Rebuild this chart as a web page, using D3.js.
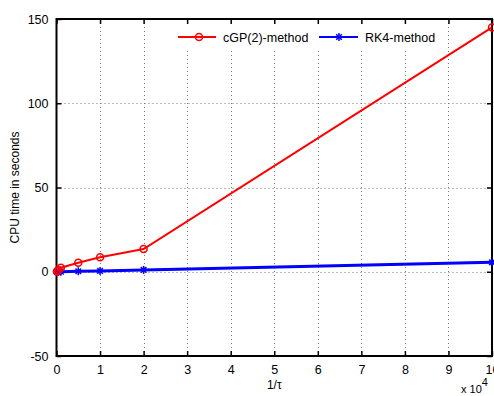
<!DOCTYPE html>
<html>
<head>
<meta charset="utf-8">
<script src="https://cdn.jsdelivr.net/npm/d3@7"></script>
<style>
  body { margin: 0; background: #fff; }
  svg text { font-family: "Liberation Sans", Arial, sans-serif; }
</style>
</head>
<body>
<div id="chart"></div>
<script>
// data: x in units of 1e4 (1/tau), y = CPU seconds
var invTau = [0.01, 0.02, 0.05, 0.1, 0.5, 1, 2, 10];
var cgpTime = [0.2, 0.5, 1.0, 2.4, 5.3, 8.6, 13.5, 145];
var rk4Time = [0.0, 0.01, 0.03, 0.06, 0.3, 0.5, 1.1, 5.6];
var xTicks = [0, 1, 2, 3, 4, 5, 6, 7, 8, 9, 10];
var yTicks = [-50, 0, 50, 100, 150];

var width = 494, height = 396;
var margin = { left: 56.5, right: 2, top: 19, bottom: 40 };

var svg = d3.select('#chart').append('svg')
    .attr('width', width)
    .attr('height', height);

var x = d3.scaleLinear().domain([0, 10]).range([margin.left, width - margin.right]);
var y = d3.scaleLinear().domain([-50, 150]).range([height - margin.bottom, margin.top]);

var x0 = x.range()[0], x1 = x.range()[1], y0 = y.range()[0], y1 = y.range()[1];

// grid
svg.append('g').selectAll('line')
    .data(xTicks.slice(1, -1)).enter()
    .append('line')
    .attr('x1', function (d) { return Math.round(x(d)) + 0.5; })
    .attr('x2', function (d) { return Math.round(x(d)) + 0.5; })
    .attr('y1', y1).attr('y2', y0)
    .attr('stroke', '#777').attr('stroke-dasharray', '1,3');
svg.append('g').selectAll('line')
    .data(yTicks.slice(1, -1)).enter()
    .append('line')
    .attr('y1', function (d) { return Math.round(y(d)) + 0.5; })
    .attr('y2', function (d) { return Math.round(y(d)) + 0.5; })
    .attr('x1', x0).attr('x2', x1)
    .attr('stroke', '#777').attr('stroke-dasharray', '1,3');

// axes
var fmt = function (d) { return String(d); };
var xAxis = svg.append('g').attr('transform', 'translate(0,' + y0 + ')')
    .call(d3.axisBottom(x).tickValues(xTicks).tickSizeInner(-5).tickSizeOuter(0).tickPadding(9).tickFormat(fmt));
var xAxisTop = svg.append('g').attr('transform', 'translate(0,' + y1 + ')')
    .call(d3.axisTop(x).tickValues(xTicks).tickSizeInner(-5).tickSizeOuter(0).tickFormat(''));
var yAxis = svg.append('g').attr('transform', 'translate(' + x0 + ',0)')
    .call(d3.axisLeft(y).tickValues(yTicks).tickSizeInner(-5).tickSizeOuter(0).tickPadding(8).tickFormat(fmt));
var yAxisRight = svg.append('g').attr('transform', 'translate(' + x1 + ',0)')
    .call(d3.axisRight(y).tickValues(yTicks).tickSizeInner(-5).tickSizeOuter(0).tickFormat(''));

[xAxis, xAxisTop, yAxis, yAxisRight].forEach(function (a) {
    a.select('.domain').remove();
    a.selectAll('line').attr('stroke', '#000').attr('stroke-width', 1.5);
    a.selectAll('text').attr('font-size', 12.5).attr('fill', '#000')
        .style('font-family', '"Liberation Sans", Arial, sans-serif');
});

svg.append('rect')
    .attr('x', x0).attr('y', y1)
    .attr('width', x1 - x0).attr('height', y0 - y1)
    .attr('fill', 'none').attr('stroke', '#000').attr('stroke-width', 2);

// lines
var line = d3.line()
    .x(function (d) { return x(d[0]); })
    .y(function (d) { return y(d[1]); });

var cgp = invTau.map(function (d, i) { return [d, cgpTime[i]]; });
var rk4 = invTau.map(function (d, i) { return [d, rk4Time[i]]; });

svg.append('path').datum(rk4)
    .attr('d', line).attr('fill', 'none')
    .attr('stroke', '#0000ff').attr('stroke-width', 3);

function star(g, cx, cy, r, color) {
    var s = g.append('g').attr('transform', 'translate(' + cx + ',' + cy + ')')
        .attr('stroke', color).attr('stroke-width', 1.5);
    s.append('line').attr('x1', -r).attr('x2', r).attr('y1', 0).attr('y2', 0);
    s.append('line').attr('x1', 0).attr('x2', 0).attr('y1', -r).attr('y2', r);
    s.append('line').attr('x1', -r * 0.7).attr('x2', r * 0.7).attr('y1', -r * 0.7).attr('y2', r * 0.7);
    s.append('line').attr('x1', -r * 0.7).attr('x2', r * 0.7).attr('y1', r * 0.7).attr('y2', -r * 0.7);
}
var starG = svg.append('g');
rk4.forEach(function (d) { star(starG, x(d[0]), y(d[1]), 4, '#0000ff'); });

svg.append('path').datum(cgp)
    .attr('d', line).attr('fill', 'none')
    .attr('stroke', '#ff0000').attr('stroke-width', 2);

svg.append('g').selectAll('circle')
    .data(cgp).enter()
    .append('circle')
    .attr('cx', function (d) { return x(d[0]); })
    .attr('cy', function (d) { return y(d[1]); })
    .attr('r', 3.5)
    .attr('fill', 'none')
    .attr('stroke', '#ff0000').attr('stroke-width', 1.5);

// legend
var legend = svg.append('g');
legend.append('rect')
    .attr('x', 170).attr('y', 26).attr('width', 276).attr('height', 22)
    .attr('fill', '#fff');
legend.append('line').attr('x1', 178).attr('x2', 216).attr('y1', 37).attr('y2', 37)
    .attr('stroke', '#ff0000').attr('stroke-width', 2);
legend.append('circle').attr('cx', 199).attr('cy', 37).attr('r', 3.5)
    .attr('fill', 'none').attr('stroke', '#ff0000').attr('stroke-width', 1.5);
legend.append('text').attr('x', 223).attr('y', 41.5).attr('font-size', 12.5)
    .text('cGP(2)-method');
legend.append('line').attr('x1', 319).attr('x2', 358).attr('y1', 37).attr('y2', 37)
    .attr('stroke', '#0000ff').attr('stroke-width', 2);
star(legend, 339, 37, 4, '#0000ff');
legend.append('text').attr('x', 365).attr('y', 41.5).attr('font-size', 12.5)
    .text('RK4-method');

// labels
svg.append('text')
    .attr('x', x(5)).attr('y', 389)
    .attr('text-anchor', 'middle').attr('font-size', 12)
    .text('1/\u03c4');
svg.append('text')
    .attr('transform', 'translate(19,' + ((y0 + y1) / 2) + ') rotate(-90)')
    .attr('text-anchor', 'middle').attr('font-size', 12)
    .text('CPU time in seconds');

var mult = svg.append('text').attr('x', 461).attr('y', 393).attr('font-size', 11);
mult.append('tspan').text('x 10');
mult.append('tspan').attr('dy', -7).attr('font-size', 11).text('4');
</script>
</body>
</html>
